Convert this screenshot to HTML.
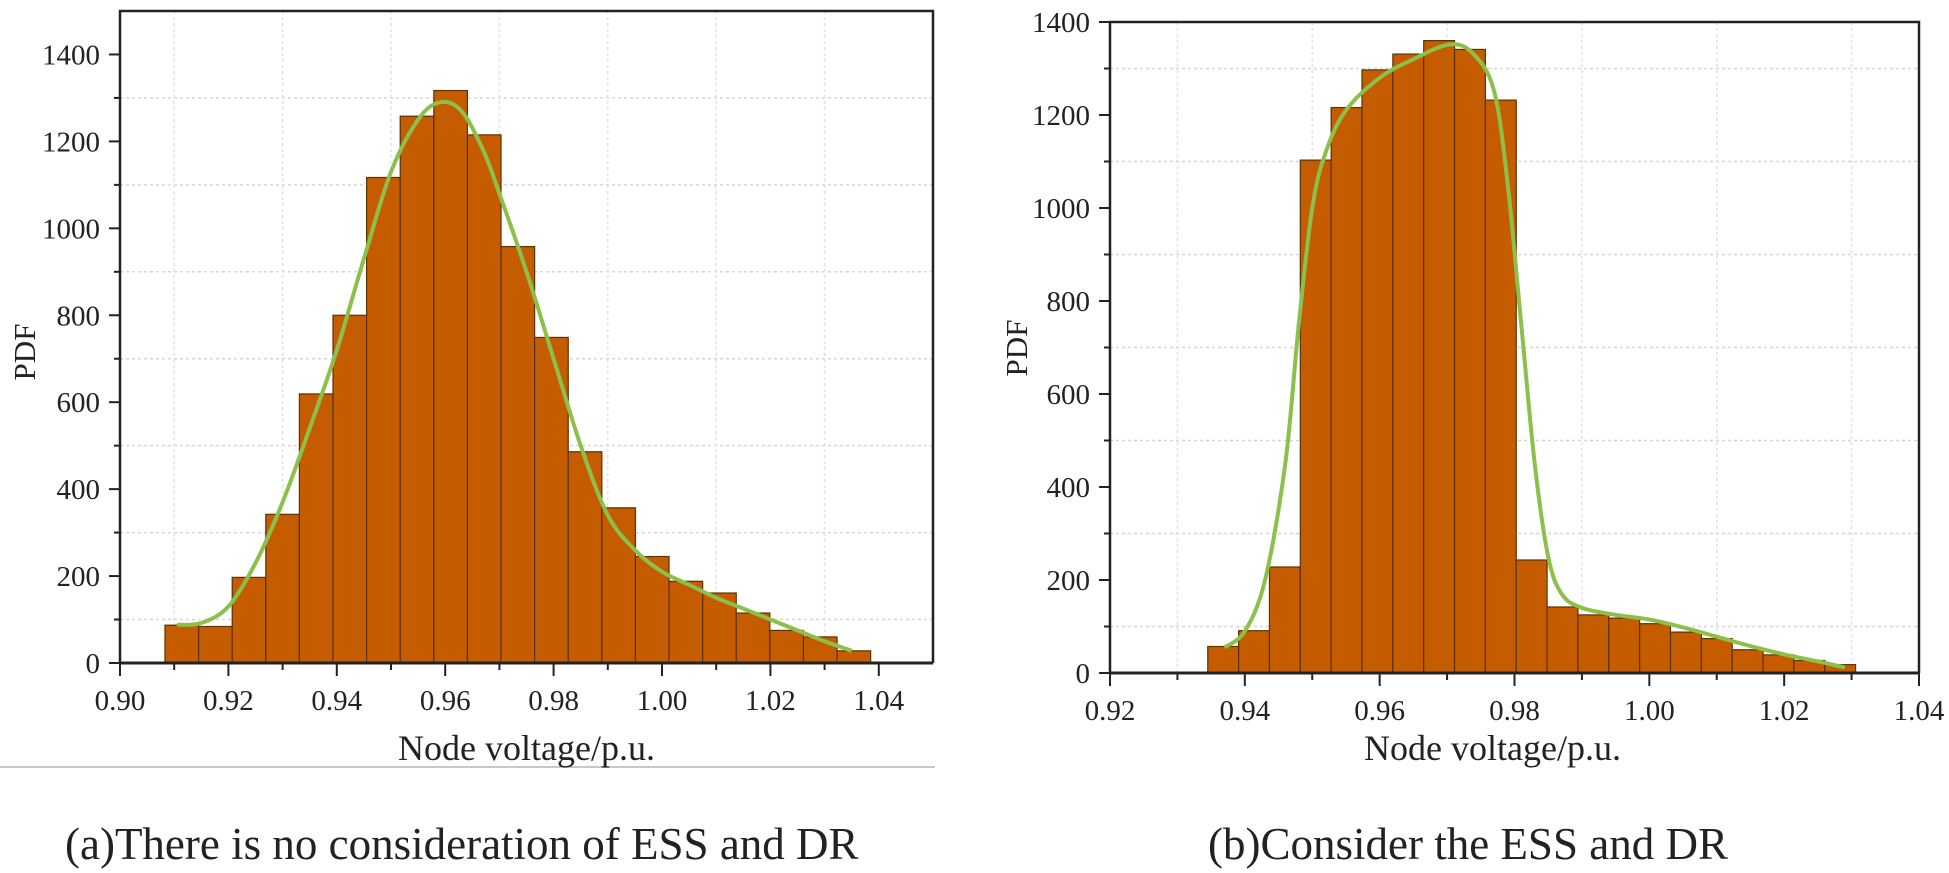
<!DOCTYPE html>
<html><head><meta charset="utf-8">
<style>
html,body{margin:0;padding:0;background:#fff;}
svg{display:block;}
text{font-family:"Liberation Serif",serif;fill:#222;}
</style></head>
<body>
<svg id="fig" width="1949" height="873" viewBox="0 0 1949 873" xmlns="http://www.w3.org/2000/svg">
  <line x1="0" y1="767" x2="935" y2="767" stroke="#c8c8c8" stroke-width="2"/>
  <text x="65" y="859" font-size="45">(a)There is no consideration of ESS and DR</text>
  <text x="1208" y="859" font-size="45">(b)Consider the ESS and DR</text>
</svg>
<script>
// ---- Chart A data ----
const aBinStart = 0.9083;
const aBinWidth = 0.0062;
const aCounts = [87, 84, 197, 342, 619, 800, 1117, 1258, 1317, 1215, 958, 749, 486, 357, 245, 188, 161, 115, 75, 60, 28];
const aCurveX = [0.9105,0.915,0.92,0.925,0.93,0.935,0.94,0.945,0.95,0.955,0.959,0.963,0.967,0.97,0.975,0.98,0.985,0.99,0.995,1.0,1.005,1.01,1.015,1.02,1.025,1.03,1.035];
const aCurveY = [88,92,130,230,370,540,720,930,1130,1250,1290,1270,1180,1080,900,700,500,340,260,210,180,150,125,100,75,50,28];
const aXTicks = ["0.90","0.92","0.94","0.96","0.98","1.00","1.02","1.04"];
const aYTicks = ["0","200","400","600","800","1000","1200","1400"];
// ---- Chart B data ----
const bBinStart = 0.9345;
const bBinWidth = 0.004576;
const bCounts = [57, 91, 228, 1103, 1216, 1297, 1331, 1360, 1341, 1232, 243, 142, 125, 118, 106, 88, 74, 50, 39, 27, 18];
const bCurveX = [0.937,0.94,0.943,0.946,0.948,0.95,0.952,0.955,0.96,0.965,0.9705,0.974,0.977,0.979,0.981,0.983,0.985,0.987,0.99,0.995,1.0,1.005,1.01,1.015,1.02,1.025,1.029];
const bCurveY = [55,90,200,450,750,1000,1120,1210,1280,1320,1352,1330,1250,1050,750,450,250,170,140,125,115,98,78,58,40,25,12];
const bXTicks = ["0.92","0.94","0.96","0.98","1.00","1.02","1.04"];
const bYTicks = ["0","200","400","600","800","1000","1200","1400"];

const NS = "http://www.w3.org/2000/svg";
const svg = document.getElementById('fig');
function mk(tag, attrs, parent){
  const e = document.createElementNS(NS, tag);
  for (const k in attrs) e.setAttribute(k, attrs[k]);
  (parent||svg).appendChild(e);
  return e;
}
function smoothPath(pts){
  let d = "M" + pts[0][0] + "," + pts[0][1];
  for (let i=0;i<pts.length-1;i++){
    const p0 = pts[i-1]||pts[i], p1 = pts[i], p2 = pts[i+1], p3 = pts[i+2]||p2;
    const c1x = p1[0]+(p2[0]-p0[0])/6, c1y = p1[1]+(p2[1]-p0[1])/6;
    const c2x = p2[0]-(p3[0]-p1[0])/6, c2y = p2[1]-(p3[1]-p1[1])/6;
    d += " C"+c1x+","+c1y+" "+c2x+","+c2y+" "+p2[0]+","+p2[1];
  }
  return d;
}

function drawChart(cfg){
  const g = mk('g', {});
  
  
  const X = v => cfg.x0 + (v - cfg.xmin) / (cfg.xmax - cfg.xmin) * (cfg.x1 - cfg.x0);
  const Y = v => cfg.y0 - (v - cfg.ymin) / (cfg.ymax - cfg.ymin) * (cfg.y0 - cfg.y1);
  for (let v = cfg.ymin + 100; v < cfg.ymax; v += 200){
    const l = mk('line', {x1:cfg.x0, x2:cfg.x1, y1:Y(v), y2:Y(v), stroke:'#d6d6d6', 'stroke-width':1.5, 'stroke-dasharray':'3,3'}, g);
    
    
  }
  for (let i = 0; i < cfg.xticks.length - 1; i++){
    const v = parseFloat(cfg.xticks[i]) + 0.01;
    const l = mk('line', {x1:X(v), x2:X(v), y1:cfg.y1, y2:cfg.y0, stroke:'#e2e2e2', 'stroke-width':1.5, 'stroke-dasharray':'3,3'}, g);
    
    
  }
  cfg.counts.forEach((c, i) => {
    const xa = X(cfg.binStart + i*cfg.binWidth), xb = X(cfg.binStart + (i+1)*cfg.binWidth);
    const r = mk('rect', {x:xa, y:Y(c), width:xb-xa, height:Y(0)-Y(c), fill:'#c55c00', stroke:'#5a3205', 'stroke-width':1.2}, g);
    
    
  });
  const pts = cfg.cx.map((v,i)=>[X(v), Y(cfg.cy[i])]);
  const p = mk('path', {d:smoothPath(pts), fill:'none', stroke:'#8cc04a', 'stroke-width':4, 'stroke-linejoin':'round'}, g);
  
  
  const f = mk('path', {d:`M${cfg.x0},${cfg.y0} L${cfg.x0},${cfg.y1} L${cfg.x1},${cfg.y1} L${cfg.x1},${cfg.y0}`, fill:'none', stroke:'#222', 'stroke-width':2.5}, g);
  
  
  const xa = mk('line', {x1:cfg.x0, x2:cfg.x1, y1:cfg.y0, y2:cfg.y0, stroke:'#222', 'stroke-width':3}, g);
  
  
  cfg.yticks.forEach(t => {
    const v = parseFloat(t), y = Y(v);
    mk('line', {x1:cfg.x0-11, x2:cfg.x0, y1:y, y2:y, stroke:'#222', 'stroke-width':2}, g);
    if (v + 100 < cfg.ymax) mk('line', {x1:cfg.x0-6, x2:cfg.x0, y1:Y(v+100), y2:Y(v+100), stroke:'#222', 'stroke-width':2}, g);
    const tx = mk('text', {x:cfg.x0-20, y:y+10, 'font-size':29, 'text-anchor':'end'}, g);
    tx.textContent = t;
    
    
  });
  cfg.xticks.forEach((t, i) => {
    const v = parseFloat(t), x = X(v);
    mk('line', {x1:x, x2:x, y1:cfg.y0, y2:cfg.y0+13, stroke:'#222', 'stroke-width':2}, g);
    if (i < cfg.xticks.length-1) mk('line', {x1:X(v+0.01), x2:X(v+0.01), y1:cfg.y0, y2:cfg.y0+7, stroke:'#222', 'stroke-width':2}, g);
    const tx = mk('text', {x:x, y:cfg.y0+47, 'font-size':29, 'text-anchor':'middle'}, g);
    tx.textContent = t;
    
    
  });
  const xt = mk('text', {x:(cfg.x0+cfg.x1)/2 + cfg.xtOff, y:cfg.xtY, 'font-size':36, 'text-anchor':'middle'}, g);
  xt.textContent = 'Node voltage/p.u.';
  
  
  const yt = mk('text', {x:0, y:0, 'font-size':31, 'text-anchor':'middle', transform:`translate(${cfg.ytX},${cfg.ytY}) rotate(-90)`}, g);
  yt.textContent = 'PDF';
  
  
}

drawChart({name:'chart-a', x0:120, x1:933, y0:663, y1:11, xmin:0.90, xmax:1.05, ymin:0, ymax:1500,
  binStart:aBinStart, binWidth:aBinWidth, counts:aCounts, cx:aCurveX, cy:aCurveY,
  xticks:aXTicks, yticks:aYTicks, xtOff:0, xtY:760, ytX:35, ytY:352});
drawChart({name:'chart-b', x0:1110, x1:1919, y0:673, y1:22, xmin:0.92, xmax:1.04, ymin:0, ymax:1400,
  binStart:bBinStart, binWidth:bBinWidth, counts:bCounts, cx:bCurveX, cy:bCurveY,
  xticks:bXTicks, yticks:bYTicks, xtOff:-22, xtY:760, ytX:1027, ytY:348});
</script>
</body></html>
